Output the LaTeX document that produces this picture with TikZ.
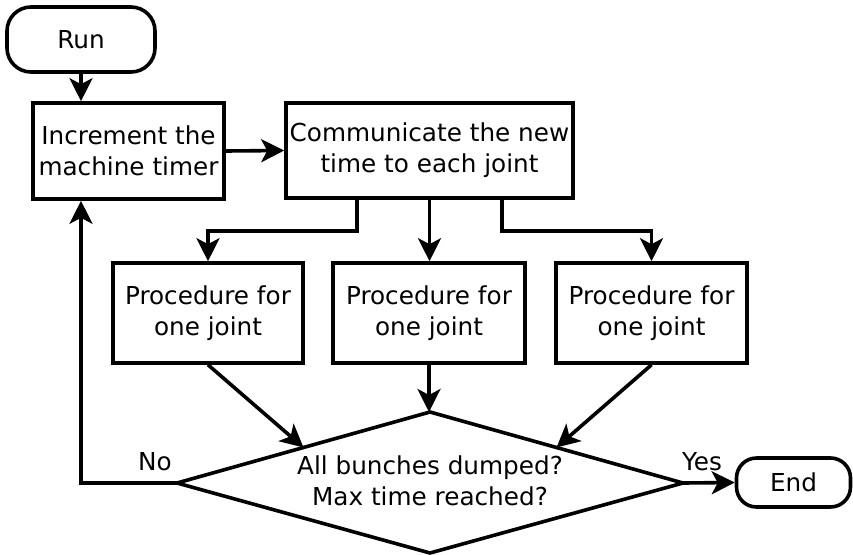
\documentclass[tikz,border=0pt]{standalone}
\usepackage{fontspec}
\setmainfont{DejaVu Sans}
\usetikzlibrary{arrows.meta,calc}
\begin{document}
\begin{tikzpicture}[x=1pt,y=-1pt,
  every node/.style={font=\fontsize{24.7}{31}\selectfont},
  box/.style={draw,line width=3.6pt,inner sep=0pt,align=center},
  conn/.style={line width=3.6pt,-{Stealth[length=23pt,width=23pt,inset=6pt]}},
  plain/.style={line width=3.6pt},
  lbl/.style={inner sep=0pt}]
\useasboundingbox (0,0) rectangle (853,554);
% terminals and boxes
\node[box,rounded corners=24pt,minimum width=148pt,minimum height=65pt] (run) at (81,39.5) {Run};
\node[box,minimum width=191pt,minimum height=96pt] (inc) at (128.5,151) {Increment the\\machine timer};
\node[box,minimum width=287pt,minimum height=95pt] (com) at (429.5,150.5) {Communicate the new\\time to each joint};
\node[box,minimum width=190pt,minimum height=100pt] (p1) at (208,313) {Procedure for\\one joint};
\node[box,minimum width=192pt,minimum height=100pt] (p2) at (429,313) {Procedure for\\one joint};
\node[box,minimum width=191pt,minimum height=100pt] (p3) at (651.5,313) {Procedure for\\one joint};
\node[box,rounded corners=20pt,minimum width=114pt,minimum height=49pt] (end) at (793.5,482.5) {End};
% decision diamond
\coordinate (dN) at (430,412);
\coordinate (dE) at (683,483);
\coordinate (dS) at (430,553);
\coordinate (dW) at (177,483);
\draw[plain] (dW) -- (dN) -- (dE) -- (dS) -- cycle;
\node[lbl,align=center] (dec) at (430,481) {All bunches dumped?\\Max time reached?};
% labels
\node[lbl] (nolab) at (155,462) {No};
\node[lbl] (yeslab) at (702,462) {Yes};
% connectors
\draw[conn] (run.south) -- (run.south |- inc.north);
\draw[conn] (inc.east) -- (com.west);
\coordinate (c1) at ($(com.south west)!0.25!(com.south east)$);
\coordinate (c3) at ($(com.south west)!0.75!(com.south east)$);
\draw[conn] (c1) -- ++(0,31) -| (p1.north);
\draw[conn] (com.south) -- (com.south |- p2.north);
\draw[conn] (c3) -- ++(0,31) -| (p3.north);
\draw[conn] (p1.south) -- ($(dW)!0.5!(dN)$);
\draw[conn] (p2.south) -- (p2.south |- dN);
\draw[conn] (p3.south) -- ($(dN)!0.5!(dE)$);
\draw[conn] (dW) -| (run.south |- inc.south);
\draw[conn] (dE) -- (end.west);
\end{tikzpicture}
\end{document}
